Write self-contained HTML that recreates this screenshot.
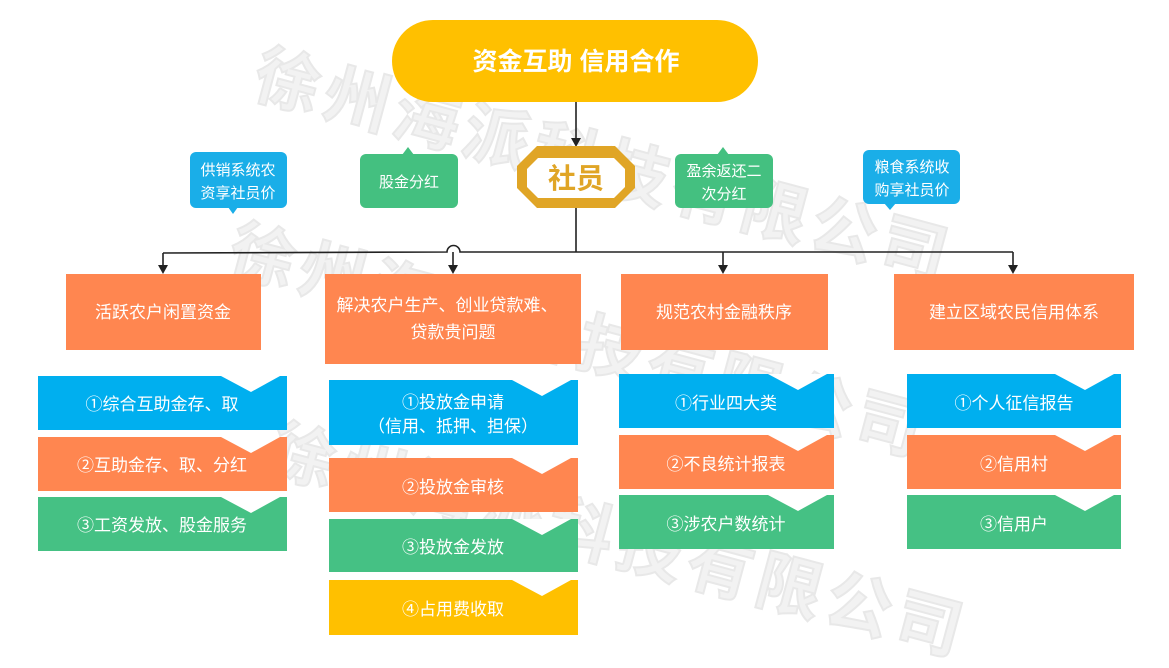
<!DOCTYPE html>
<html><head><meta charset="utf-8"><style>
html,body{margin:0;padding:0;background:#fff;}
body{width:1169px;height:663px;overflow:hidden;position:relative;font-family:"Liberation Sans","Noto Sans CJK SC",sans-serif;}
svg text{font-family:"Liberation Sans","Noto Sans CJK SC",sans-serif;}
</style></head><body>
<svg width="1169" height="663" viewBox="0 0 1169 663" xmlns="http://www.w3.org/2000/svg">
<defs>
<path id="n" d="M-66 0 L-7 0 L-36 16 Z" fill="#fff"/>
</defs>
<!-- watermark -->
<g fill="#f2f2f2" stroke="#e8e8e8" stroke-width="2" font-size="66" font-weight="bold">
<text transform="translate(250,95) rotate(15)" letter-spacing="6">徐州海派科技有限公司</text>
<text transform="translate(225,270) rotate(15)" letter-spacing="6">徐州海派科技有限公司</text>
<text transform="translate(265,470) rotate(15)" letter-spacing="6">徐州海派科技有限公司</text>
</g>
<!-- title -->
<rect x="392" y="20" width="366" height="82" rx="41" fill="#FFC000"/>
<text x="576" y="70" text-anchor="middle" fill="#fff" font-size="25" font-weight="bold">资金互助 信用合作</text>
<!-- connectors -->
<g stroke="#222" stroke-width="1.6" fill="none">
<line x1="576" y1="102" x2="576" y2="140"/>
<line x1="576" y1="208" x2="576" y2="252"/>
<path d="M1013 252 L576 252 L460 252 A6.5 6.5 0 0 0 447 252 L163 253"/>
<line x1="163" y1="253" x2="163" y2="266"/>
<line x1="453" y1="252" x2="453" y2="266"/>
<line x1="723" y1="252" x2="723" y2="266"/>
<line x1="1013" y1="252" x2="1013" y2="266"/>
</g>
<g fill="#222">
<path d="M571 138 L581 138 L576 147 Z"/>
<path d="M158 265 L168 265 L163 274 Z"/>
<path d="M448 265 L458 265 L453 274 Z"/>
<path d="M718 265 L728 265 L723 274 Z"/>
<path d="M1008 265 L1018 265 L1013 274 Z"/>
</g>
<!-- badge -->
<path d="M537 146 L615 146 L635 166 L635 188 L615 208 L537 208 L517 188 L517 166 Z" fill="#E0A526"/>
<path d="M538 158 L614 158 L625 169 L625 187 L614 198 L538 198 L527 187 L527 169 Z" fill="#fff"/>
<text x="576" y="188" text-anchor="middle" fill="#E0A526" font-size="28" font-weight="bold">社员</text>
<!-- callouts -->
<rect x="190" y="152" width="97" height="56" rx="6" fill="#1AAEE8"/>
<path d="M228 207 L238 207 L233 214 Z" fill="#1AAEE8"/>
<text x="238" y="175" text-anchor="middle" fill="#fff" font-size="15">供销系统农</text>
<text x="238" y="198" text-anchor="middle" fill="#fff" font-size="15">资享社员价</text>
<rect x="360" y="154" width="98" height="54" rx="6" fill="#44C080"/>
<path d="M402 155 L408 147 L414 155 Z" fill="#44C080"/>
<text x="409" y="187" text-anchor="middle" fill="#fff" font-size="15">股金分红</text>
<rect x="675" y="154" width="98" height="54" rx="6" fill="#44C080"/>
<path d="M717 155 L723 147 L729 155 Z" fill="#44C080"/>
<text x="724" y="176" text-anchor="middle" fill="#fff" font-size="15">盈余返还二</text>
<text x="724" y="199" text-anchor="middle" fill="#fff" font-size="15">次分红</text>
<rect x="863" y="150" width="97" height="54" rx="6" fill="#1AAEE8"/>
<path d="M884 203 L896 203 L890 210 Z" fill="#1AAEE8"/>
<text x="912" y="172" text-anchor="middle" fill="#fff" font-size="15">粮食系统收</text>
<text x="912" y="195" text-anchor="middle" fill="#fff" font-size="15">购享社员价</text>
<!-- headers -->
<g fill="#FF8650">
<rect x="66" y="274" width="195" height="76"/>
<rect x="325" y="274" width="256" height="90"/>
<rect x="621" y="274" width="207" height="76"/>
<rect x="894" y="274" width="240" height="76"/>
</g>
<g fill="#fff" font-size="17" text-anchor="middle">
<text x="163" y="318">活跃农户闲置资金</text>
<text x="447" y="311">解决农户生产、创业贷款难、</text>
<text x="453" y="338">贷款贵问题</text>
<text x="724" y="318">规范农村金融秩序</text>
<text x="1014" y="318">建立区域农民信用体系</text>
</g>
<!-- sub boxes -->
<g>
<rect x="38" y="376" width="249" height="54" fill="#00AFEF"/>
<rect x="38" y="437" width="249" height="54" fill="#FF8650"/>
<rect x="38" y="497" width="249" height="54" fill="#45C184"/>
<rect x="329" y="380" width="249" height="65" fill="#00AFEF"/>
<rect x="329" y="458" width="249" height="54" fill="#FF8650"/>
<rect x="329" y="519" width="249" height="53" fill="#45C184"/>
<rect x="329" y="580" width="249" height="55" fill="#FFC000"/>
<rect x="619" y="374" width="215" height="54" fill="#00AFEF"/>
<rect x="619" y="435" width="215" height="54" fill="#FF8650"/>
<rect x="619" y="495" width="215" height="54" fill="#45C184"/>
<rect x="907" y="374" width="214" height="54" fill="#00AFEF"/>
<rect x="907" y="435" width="214" height="54" fill="#FF8650"/>
<rect x="907" y="495" width="214" height="54" fill="#45C184"/>
</g>
<g>
<use href="#n" x="287" y="376"/>
<use href="#n" x="287" y="437"/>
<use href="#n" x="287" y="497"/>
<use href="#n" x="578" y="380"/>
<use href="#n" x="578" y="458"/>
<use href="#n" x="578" y="519"/>
<use href="#n" x="578" y="580"/>
<use href="#n" x="834" y="374"/>
<use href="#n" x="834" y="435"/>
<use href="#n" x="834" y="495"/>
<use href="#n" x="1121" y="374"/>
<use href="#n" x="1121" y="435"/>
<use href="#n" x="1121" y="495"/>
</g>
<g fill="#fff" font-size="17" text-anchor="middle">
<text x="162" y="410">①综合互助金存、取</text>
<text x="162" y="471">②互助金存、取、分红</text>
<text x="162" y="531">③工资发放、股金服务</text>
<text x="453" y="408">①投放金申请</text>
<text x="453" y="432">（信用、抵押、担保）</text>
<text x="453" y="493">②投放金审核</text>
<text x="453" y="553">③投放金发放</text>
<text x="453" y="615">④占用费收取</text>
<text x="726" y="409">①行业四大类</text>
<text x="726" y="470">②不良统计报表</text>
<text x="726" y="530">③涉农户数统计</text>
<text x="1014" y="409">①个人征信报告</text>
<text x="1014" y="470">②信用村</text>
<text x="1014" y="530">③信用户</text>
</g>
</svg>
</body></html>
